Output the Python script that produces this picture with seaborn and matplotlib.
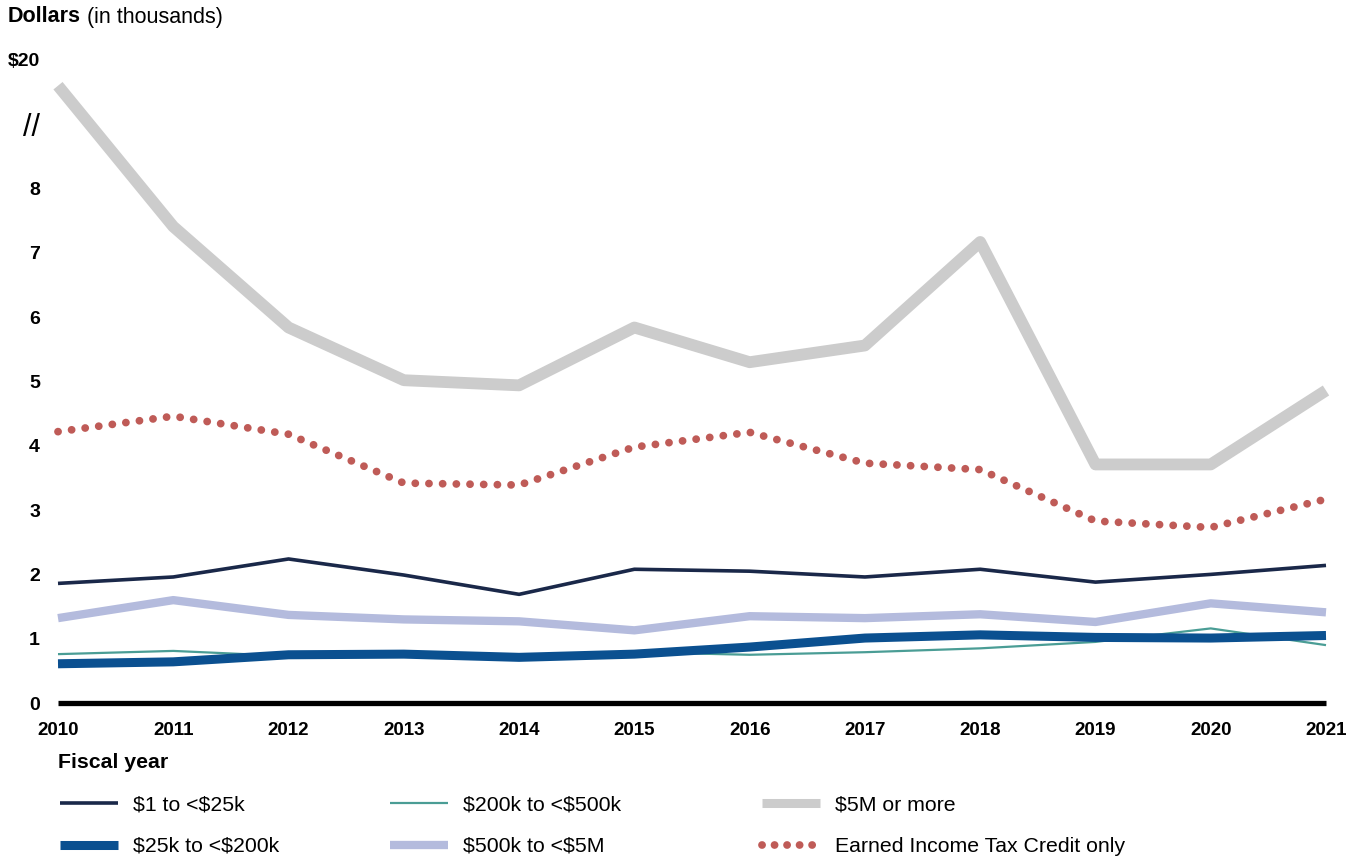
import matplotlib
matplotlib.use("Agg")
import matplotlib.pyplot as plt
from matplotlib.lines import Line2D
import seaborn as sns
import pandas as pd

# Data (dollars in thousands; the $5M line is plotted on a broken axis above 8)
years = list(range(2010, 2022))
low_1_25k = [1.86, 1.96, 2.24, 1.99, 1.69, 2.08, 2.05, 1.96, 2.08, 1.88, 2.00, 2.14]
mid_25k_200k = [0.61, 0.64, 0.75, 0.76, 0.71, 0.76, 0.87, 1.01, 1.06, 1.02, 1.01, 1.05]
mid_200k_500k = [0.76, 0.81, 0.73, 0.75, 0.71, 0.79, 0.75, 0.79, 0.85, 0.95, 1.16, 0.90]
high_500k_5m = [1.32, 1.60, 1.37, 1.30, 1.27, 1.13, 1.35, 1.32, 1.38, 1.26, 1.55, 1.41]
top_5m_plus = [9.60, 7.41, 5.84, 5.02, 4.94, 5.84, 5.30, 5.56, 7.17, 3.71, 3.71, 4.86]
eitc_only = [4.22, 4.46, 4.18, 3.42, 3.39, 3.98, 4.21, 3.73, 3.63, 2.83, 2.73, 3.17]

ytick_pos = list(range(0, 11))
ytick_labels = ["0", "1", "2", "3", "4", "5", "6", "7", "8", "//", "$20"]

df = pd.DataFrame({
    "year": years,
    "$1 to <$25k": low_1_25k,
    "$25k to <$200k": mid_25k_200k,
    "$200k to <$500k": mid_200k_500k,
    "$500k to <$5M": high_500k_5m,
    "$5M or more": top_5m_plus,
    "Earned Income Tax Credit only": eitc_only,
})

sns.set_style("white")
plt.rcParams["font.family"] = ["Liberation Sans", "DejaVu Sans"]
plt.rcParams["text.color"] = "black"
plt.rcParams["xtick.color"] = "black"
plt.rcParams["ytick.color"] = "black"

dot_dashes = (0.01, 1.75)
styles = {
    "$5M or more": dict(color="#cccccc", lw=8.5),
    "Earned Income Tax Credit only": dict(color="#bf5b57", lw=5.6, dashes=dot_dashes),
    "$500k to <$5M": dict(color="#b4bbdd", lw=6),
    "$200k to <$500k": dict(color="#4a9d95", lw=1.6),
    "$25k to <$200k": dict(color="#0b5090", lw=6.5),
    "$1 to <$25k": dict(color="#1a2849", lw=2.6),
}

fig = plt.figure(figsize=(13.56, 8.59), dpi=100)
ax = fig.add_axes([58 / 1356, 156 / 859, 1268 / 1356, 643 / 859])

for name, st in styles.items():
    sns.lineplot(data=df, x="year", y=name, ax=ax, color=st["color"],
                 linewidth=st["lw"], clip_on=False)
    l = ax.lines[-1]
    if "dashes" in st:
        l.set_dashes(st["dashes"])
        l.set_dash_capstyle("round")
    else:
        l.set_solid_capstyle("butt")

ax.axhline(0, color="black", lw=3.8, clip_on=False, solid_capstyle="butt")

ax.set_xlim(2010, 2021)
ax.set_ylim(0, 10)
ax.set_xticks(years)
ax.set_xticklabels([str(y) for y in years], fontsize=13.5, fontweight="bold")
ax.set_yticks(ytick_pos)
ax.set_yticklabels(ytick_labels, fontsize=14, fontweight="bold")
for t in ax.get_yticklabels():
    if t.get_text() == "//":
        t.set_fontweight("normal")
        t.set_fontsize(22)
ax.tick_params(axis="y", length=0, pad=13)
ax.tick_params(axis="x", length=0, pad=14)
ax.set_xlabel("")
ax.set_ylabel("")
sns.despine(ax=ax, left=True, bottom=True)

t1 = fig.text(8 / 1356, 1 - 17 / 859, "Dollars", fontsize=15.5, fontweight="bold", va="center")
ax.annotate(" (in thousands)", xy=(1, 0.5), xycoords=t1, va="center", fontsize=15.5,
            annotation_clip=False)
fig.text(58 / 1356, 1 - 762 / 859, "Fiscal year", fontsize=15.3, fontweight="bold", va="center")

# Legend in three columns
order = [["$1 to <$25k", "$25k to <$200k"],
         ["$200k to <$500k", "$500k to <$5M"],
         ["$5M or more", "Earned Income Tax Credit only"]]
col_x = [60, 390, 762]
for names, x0 in zip(order, col_x):
    handles = []
    for n in names:
        st = styles[n]
        h = Line2D([], [], color=st["color"], lw=min(st["lw"], 6.5))
        if "dashes" in st:
            h.set_dashes((0.01, 1.6))
            h.set_dash_capstyle("round")
        else:
            h.set_solid_capstyle("butt")
        handles.append(h)
    labels = [n.replace("$", r"\$") for n in names]
    fig.legend(handles, labels, loc="center left",
               bbox_to_anchor=(x0 / 1356, 1 - 825.5 / 859), frameon=False,
               fontsize=15.3, handlelength=2.73, handletextpad=0.7,
               labelspacing=1.08, borderpad=0, borderaxespad=0)

fig.savefig("out.png", dpi=100)
